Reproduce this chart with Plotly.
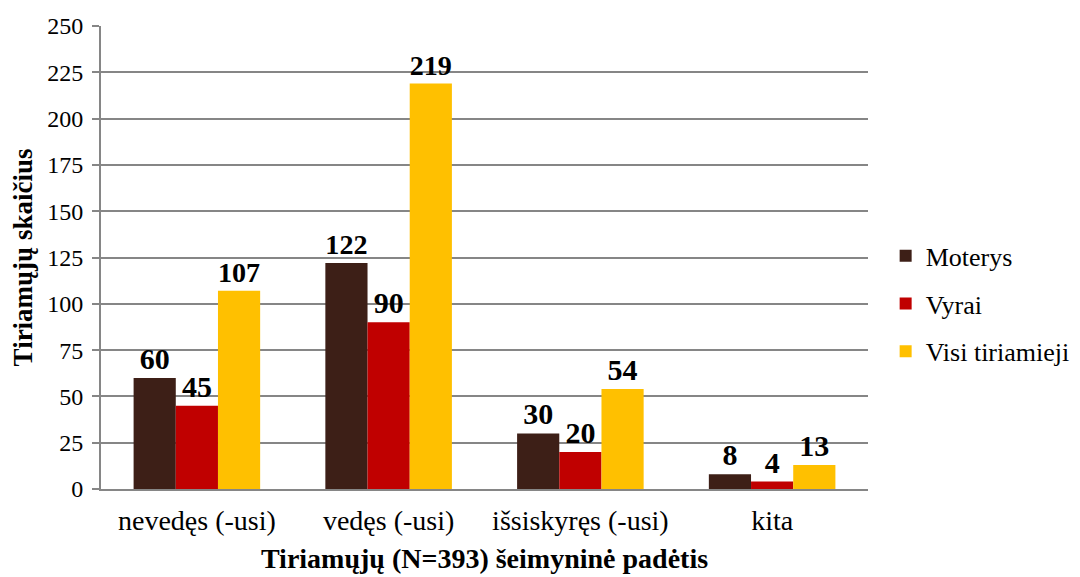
import plotly.graph_objects as go

categories = ['nevedęs (-usi)', 'vedęs (-usi)', 'išsiskyręs (-usi)', 'kita']
moterys = [60, 122, 30, 8]
vyrai = [45, 90, 20, 4]
visi = [107, 219, 54, 13]
y_ticks = [0, 25, 50, 75, 100, 125, 150, 175, 200, 225, 250]

FONT = '"Liberation Serif", "Times New Roman", serif'

series = [
    ('Moterys', moterys, '#3D1F17'),
    ('Vyrai', vyrai, '#C00000'),
    ('Visi tiriamieji', visi, '#FFC000'),
]

fig = go.Figure()
for name, vals, color in series:
    fig.add_trace(go.Bar(
        x=categories, y=vals, name=name, legendgroup=name,
        marker=dict(color=color, line=dict(width=0)),
        text=vals, textposition='outside', cliponaxis=False,
        textfont=dict(family=FONT, size=30, color='black', weight='bold'),
    ))

# page body has an 8px margin, so margins are shifted by 8px;
# extra width on the right leaves room for the legend (cropped by the window)
fig.update_layout(
    width=1090, height=569,
    margin=dict(l=93, r=230, t=18, b=88),
    paper_bgcolor='white', plot_bgcolor='white',
    barmode='group', bargap=0.34, bargroupgap=0,
    font=dict(family=FONT, size=24, color='black'),
    showlegend=True,
    legend=dict(x=1.023, y=0.40, yanchor='middle', xanchor='left',
                font=dict(family=FONT, size=26, color='black'),
                itemwidth=30, tracegroupgap=11),
    xaxis=dict(
        showline=True, linecolor='#868686', linewidth=2,
        ticks='', tickfont=dict(family=FONT, size=28, color='black'),
        ticklabelstandoff=5, automargin=False,
        title=dict(text='Tiriamųjų (N=393) šeimyninė padėtis',
                   font=dict(family=FONT, size=28, color='black', weight='bold'),
                   standoff=14),
    ),
    yaxis=dict(
        range=[0, 250], tickvals=y_ticks,
        showgrid=True, gridcolor='#868686', gridwidth=1.5,
        showline=True, linecolor='#868686', linewidth=2,
        ticks='outside', ticklen=7, tickcolor='#868686', tickwidth=1.5,
        tickfont=dict(family=FONT, size=24, color='black'), zeroline=False,
        ticklabelstandoff=4, automargin=False,
        title=dict(text='Tiriamųjų skaičius',
                   font=dict(family=FONT, size=27, color='black', weight='bold'),
                   standoff=8),
    ),
)

fig.write_html("out.html")
